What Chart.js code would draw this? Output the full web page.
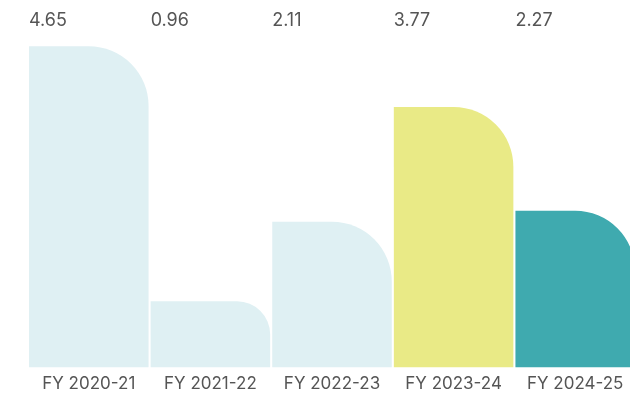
<!DOCTYPE html>
<html>
<head>
<meta charset="utf-8">
<script src="https://cdn.jsdelivr.net/npm/chart.js@4"></script>
<style>
  html, body { margin: 0; padding: 0; background: #fff; overflow: hidden; }
  #wrap { width: 636px; height: 400px; }
</style>
</head>
<body>
<div id="wrap"><canvas id="grafica"></canvas></div>
<script>
  // datos
  const years  = ['FY 2020-21', 'FY 2021-22', 'FY 2022-23', 'FY 2023-24', 'FY 2024-25'];
  const values = [4.65, 0.96, 2.11, 3.77, 2.27];
  const colors = ['#dff0f3', '#dff0f3', '#dff0f3', '#e9ea86', '#3faaaf'];

  // etiquetas de valor arriba, alineadas a la izquierda de cada barra
  const valueLabels = {
    id: 'valueLabels',
    afterDatasetsDraw(chart) {
      const ctx = chart.ctx;
      const meta = chart.getDatasetMeta(0);
      ctx.save();
      ctx.font = '18px Inter, sans-serif';
      ctx.fillStyle = '#555';
      ctx.textAlign = 'left';
      ctx.textBaseline = 'middle';
      meta.data.forEach((bar, i) => {
        ctx.fillText(values[i].toFixed(2), bar.x - bar.width / 2, 21);
      });
      ctx.restore();
    }
  };

  new Chart(document.getElementById('grafica'), {
    type: 'bar',
    data: {
      labels: years,
      datasets: [{
        data: values,
        backgroundColor: colors,
        borderWidth: 0,
        borderRadius: { topRight: 60 },
        borderSkipped: false,
        barPercentage: 1,
        categoryPercentage: 0.983
      }]
    },
    options: {
      responsive: true,
      maintainAspectRatio: false,
      animation: false,
      layout: { padding: { left: 28, top: 22, right: 0, bottom: 0 } },
      plugins: { legend: { display: false }, tooltip: { enabled: false } },
      scales: {
        y: { display: false, min: 0, max: 5 },
        x: {
          grid: { display: false, drawTicks: false },
          border: { display: false },
          ticks: {
            color: '#555',
            font: { family: 'Inter, sans-serif', size: 17 },
            padding: 6,
            maxRotation: 0
          }
        }
      }
    },
    plugins: [valueLabels]
  });
</script>
</body>
</html>
